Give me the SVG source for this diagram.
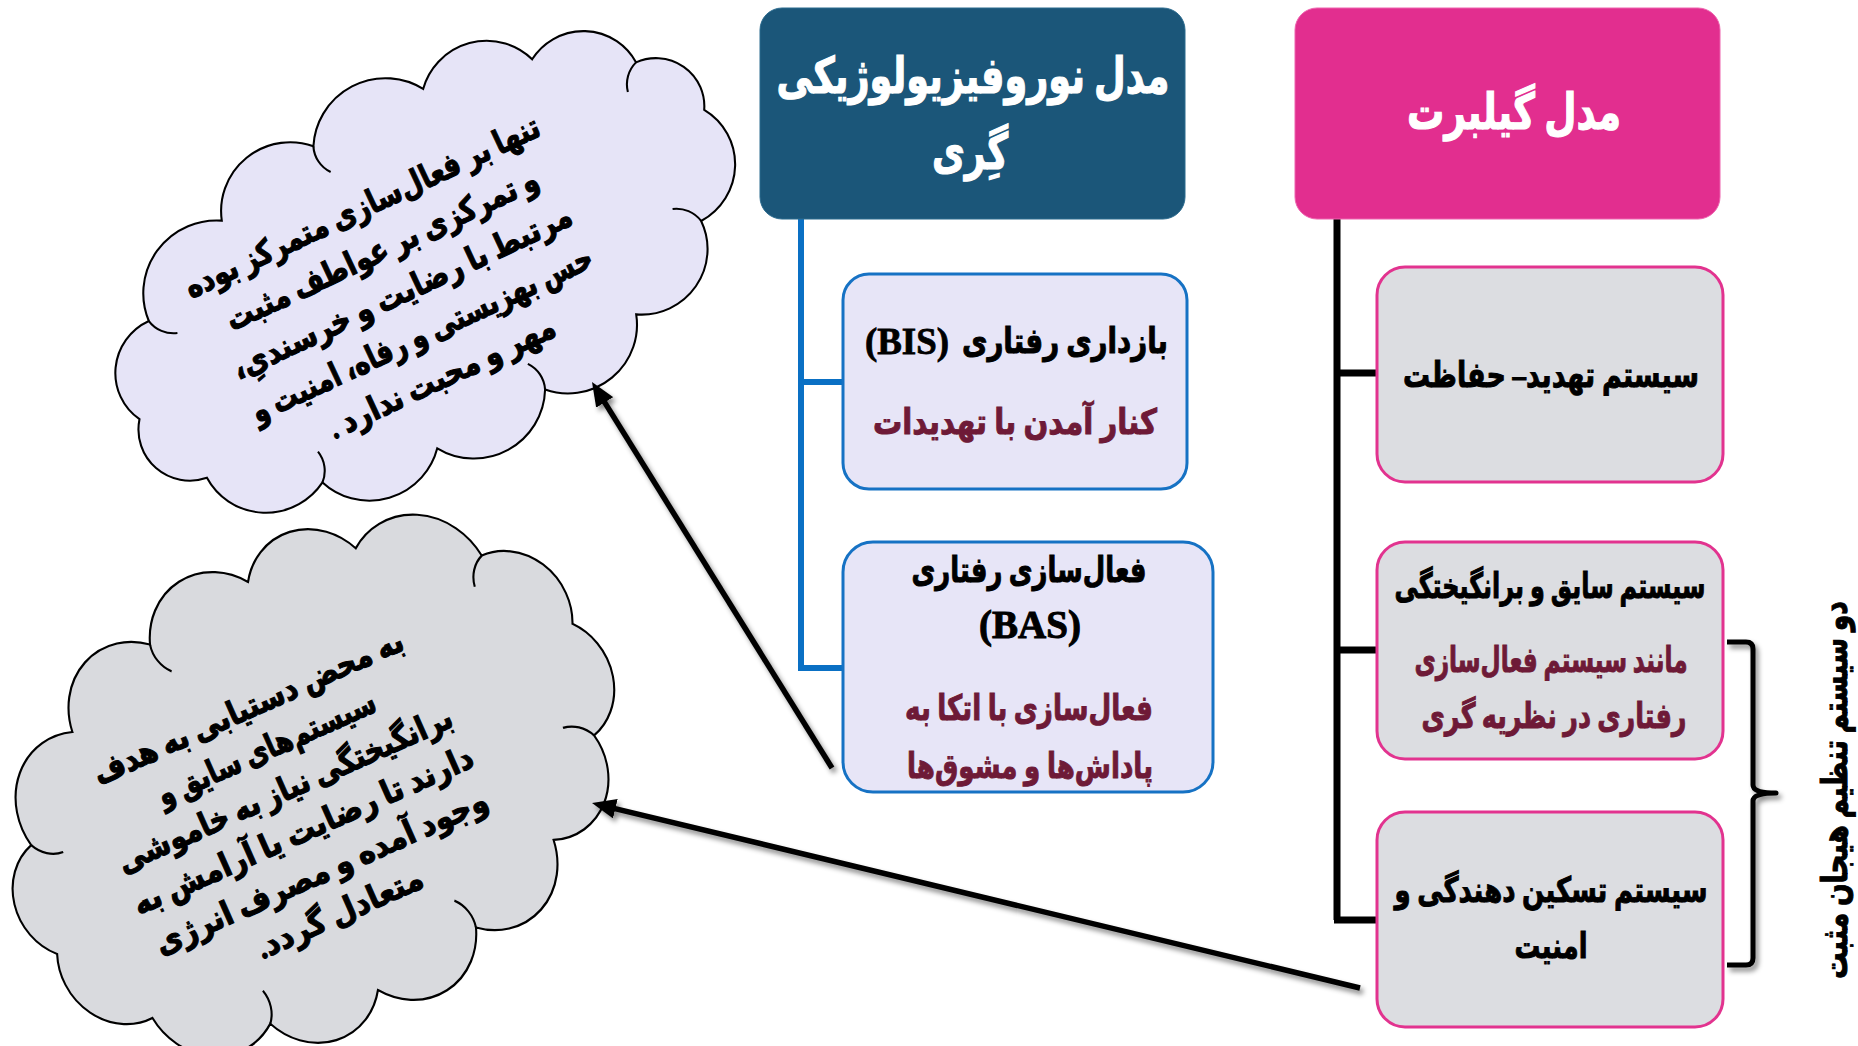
<svg xmlns="http://www.w3.org/2000/svg" width="1858" height="1046" viewBox="0 0 1858 1046">
<defs>
<style>
.fa{font-family:"Liberation Serif","DejaVu Sans",serif;font-weight:bold;direction:rtl;text-anchor:middle;dominant-baseline:central}
.lat{font-family:"Liberation Serif",serif;font-weight:bold;direction:ltr;text-anchor:start;dominant-baseline:central;fill:#000000;stroke:#000000;stroke-width:0.8;font-size:37px}
.hd{fill:#ffffff;stroke:#ffffff;stroke-width:1.2;font-size:50px}
.bk{fill:#000000;stroke:#000000;stroke-width:1;font-size:35px}
.rd{fill:#6E1A37;stroke:#6E1A37;stroke-width:1;font-size:35px}
.cl{fill:#000000;stroke:#000000;stroke-width:1.1;font-size:33px}
.hdrBlue{fill:#1B5679;stroke:#2A6A8E;stroke-width:1}
.hdrPink{fill:#E22E8F;stroke:#EE62AE;stroke-width:1}
.boxB{fill:#E7E5F7;stroke:#1672C4;stroke-width:3}
.boxP{fill:#DCDDE1;stroke:#E2338F;stroke-width:3}
.cloud{stroke:#000000;stroke-width:2}
.inner{stroke:#000000;stroke-width:2;fill:none}
.lnB{stroke:#0A70C4;stroke-width:6;fill:none}
.lnK{stroke:#000000;stroke-width:7;fill:none}
.arr{stroke:#000000;stroke-width:5.5;fill:none;marker-end:url(#ah)}
</style>
<marker id="ah" viewBox="0 0 24 20" markerUnits="userSpaceOnUse" markerWidth="24" markerHeight="20" refX="10" refY="10" orient="auto">
<path d="M0,0 L24,10 L0,20 z" fill="#000000"/>
</marker>
<filter id="sh" x="-20%" y="-20%" width="140%" height="140%">
<feDropShadow dx="3" dy="4" stdDeviation="2.5" flood-color="#000000" flood-opacity="0.45"/>
</filter>
</defs>
<rect x="0" y="0" width="1858" height="1046" fill="#ffffff"/>

<g id="cloud-top">
<g transform="translate(425,271) rotate(-30) scale(1.04,1.03)">
<path class="cloud" fill="#E6E4F7" d="M310,0 A62,62 0 0 1 254,92 A63,63 0 0 1 155,139 A66,66 0 0 1 43,158 A68,68 0 0 1 -75,155 A67,67 0 0 1 -187,128 A65,65 0 0 1 -281,68 A50,50 0 0 1 -309,-14 A55,55 0 0 1 -254,-92 A70,70 0 0 1 -145,-141 A66,66 0 0 1 -33,-159 A69,69 0 0 1 86,-154 A63,63 0 0 1 191,-126 A58,58 0 0 1 276,-73 A47,47 0 0 1 310,0 Z"/>
<path class="inner" d="M254,92 A30,30 0 0 0 236,68 M-187,128 A30,30 0 0 0 -176,100 M-254,-92 A30,30 0 0 0 -236,-68 M-33,-159 A30,30 0 0 0 -31,-129 M276,-73 A30,30 0 0 0 255,-52 M43,158 A30,30 0 0 0 41,128"/>
</g>
<g transform="translate(402,292) rotate(-25)">
<text class="fa cl" x="0" y="-94" textLength="388" lengthAdjust="spacingAndGlyphs">تنها بر فعال‌سازی متمرکز بوده</text>
<text class="fa cl" x="0" y="-47" textLength="341" lengthAdjust="spacingAndGlyphs">و تمرکزی بر عواطف مثبت</text>
<text class="fa cl" x="0" y="0" textLength="371" lengthAdjust="spacingAndGlyphs">مرتبط با رضایت و خرسندیِ،</text>
<text class="fa cl" x="0" y="47" textLength="373" lengthAdjust="spacingAndGlyphs">حس بهزیستی و رفاه، امنیت و</text>
<text class="fa cl" x="0" y="94" textLength="247" lengthAdjust="spacingAndGlyphs">مهر و محبت ندارد .</text>
</g>
</g>

<g id="cloud-bottom">
<g transform="translate(313,786) rotate(-32) scale(1.02,1.14)">
<path class="cloud" fill="#D9DADE" d="M300,0 A59,59 0 0 1 260,93 A61,61 0 0 1 172,152 A66,66 0 0 1 62,181 A66,66 0 0 1 -52,182 A64,64 0 0 1 -159,157 A65,65 0 0 1 -254,98 A60,60 0 0 1 -300,6 A57,57 0 0 1 -265,-87 A66,66 0 0 1 -172,-152 A66,66 0 0 1 -62,-181 A66,66 0 0 1 52,-182 A64,64 0 0 1 159,-157 A70,70 0 0 1 260,-93 A59,59 0 0 1 300,0 Z"/>
<path class="inner" d="M260,93 A30,30 0 0 0 238,73 M-159,157 A30,30 0 0 0 -148,129 M-265,-87 A30,30 0 0 0 -242,-67 M-62,-181 A30,30 0 0 0 -58,-151 M260,-93 A30,30 0 0 0 238,-73 M62,181 A30,30 0 0 0 58,151"/>
</g>
<g transform="translate(294,810) rotate(-24)">
<text class="fa cl" x="0" y="-112.5" textLength="336" lengthAdjust="spacingAndGlyphs">به محض دستیابی به هدف</text>
<text class="fa cl" x="0" y="-67.5" textLength="236" lengthAdjust="spacingAndGlyphs">سیستم‌های سایق و</text>
<text class="fa cl" x="0" y="-22.5" textLength="363" lengthAdjust="spacingAndGlyphs">برانگیختگی نیاز به خاموشی</text>
<text class="fa cl" x="0" y="22.5" textLength="369" lengthAdjust="spacingAndGlyphs">دارند تا رضایت یا آرامش به</text>
<text class="fa cl" x="0" y="67.5" textLength="361" lengthAdjust="spacingAndGlyphs">وجود آمده و مصرف انرژی</text>
<text class="fa cl" x="0" y="112.5" textLength="179" lengthAdjust="spacingAndGlyphs">متعادل گردد.</text>
</g>
</g>

<g id="connectors">
<path class="lnB" d="M801,218 L801,668 M798,382 L843,382 M798,668 L843,668"/>
<path class="lnK" d="M1337,218 L1337,920 M1334,373 L1377,373 M1334,650 L1377,650 M1334,920 L1377,920"/>
<g filter="url(#sh)">
<line class="arr" x1="832" y1="768" x2="599.4" y2="393.9"/>
<line class="arr" x1="1360" y1="988" x2="605.6" y2="806.3"/>
<path d="M1727,642 L1746,642 Q1753,642 1753,649 L1753,785 Q1753,793 1776,793 Q1753,793 1753,801 L1753,958 Q1753,965 1746,965 L1727,965" fill="none" stroke="#000000" stroke-width="5" stroke-linejoin="round"/>
</g>
</g>

<g id="node-neuro-header">
<rect class="hdrBlue" x="760" y="8" width="425" height="211" rx="22"/>
<text class="fa hd" x="973" y="76" textLength="393" lengthAdjust="spacingAndGlyphs">مدل نوروفیزیولوژیکی</text>
<text class="fa hd" x="970" y="152" textLength="76" lengthAdjust="spacingAndGlyphs">گِری</text>
</g>

<g id="node-bis">
<rect class="boxB" x="843" y="274" width="344" height="215" rx="26"/>
<text class="fa bk" x="1065" y="341" textLength="206" lengthAdjust="spacingAndGlyphs">بازداری رفتاری</text>
<text class="lat" x="865" y="341" textLength="84" lengthAdjust="spacingAndGlyphs">(BIS)</text>
<text class="fa rd" x="1015" y="422" textLength="284" lengthAdjust="spacingAndGlyphs">کنار آمدن با تهدیدات</text>
</g>

<g id="node-bas">
<rect class="boxB" x="843" y="542" width="370" height="250" rx="30"/>
<text class="fa bk" x="1029" y="570" textLength="235" lengthAdjust="spacingAndGlyphs">فعال‌سازی رفتاری</text>
<text class="fa bk" x="1030" y="624" style="font-size:39px">(BAS)</text>
<text class="fa rd" x="1029" y="708" textLength="248" lengthAdjust="spacingAndGlyphs">فعال‌سازی با اتکا به</text>
<text class="fa rd" x="1030" y="766" textLength="246" lengthAdjust="spacingAndGlyphs">پاداش‌ها و مشوق‌ها</text>
</g>

<g id="node-gilbert-header">
<rect class="hdrPink" x="1295" y="8" width="425" height="211" rx="22"/>
<text class="fa hd" x="1514" y="112" textLength="214" lengthAdjust="spacingAndGlyphs">مدل گیلبرت</text>
</g>

<g id="node-threat">
<rect class="boxP" x="1377" y="267" width="346" height="215" rx="28"/>
<text class="fa bk" x="1551" y="375" textLength="296" lengthAdjust="spacingAndGlyphs">سیستم تهدید– حفاظت</text>
</g>

<g id="node-drive">
<rect class="boxP" x="1377" y="542" width="346" height="217" rx="28"/>
<text class="fa bk" x="1550" y="586" textLength="311" lengthAdjust="spacingAndGlyphs">سیستم سایق و برانگیختگی</text>
<text class="fa rd" x="1551" y="660" textLength="273" lengthAdjust="spacingAndGlyphs">مانند سیستم فعال‌سازی</text>
<text class="fa rd" x="1554" y="716" textLength="265" lengthAdjust="spacingAndGlyphs">رفتاری در نظریه گری</text>
</g>

<g id="node-soothing">
<rect class="boxP" x="1377" y="812" width="346" height="215" rx="28"/>
<text class="fa bk" x="1551" y="890" textLength="313" lengthAdjust="spacingAndGlyphs">سیستم تسکین دهندگی و</text>
<text class="fa bk" x="1551" y="946" textLength="73" lengthAdjust="spacingAndGlyphs">امنیت</text>
</g>

<g id="label-positive">
<text class="fa bk" transform="translate(1835,790) rotate(-90)" x="0" y="0" textLength="378" lengthAdjust="spacingAndGlyphs">دو سیستم تنظیم هیجان مثبت</text>
</g>
</svg>
